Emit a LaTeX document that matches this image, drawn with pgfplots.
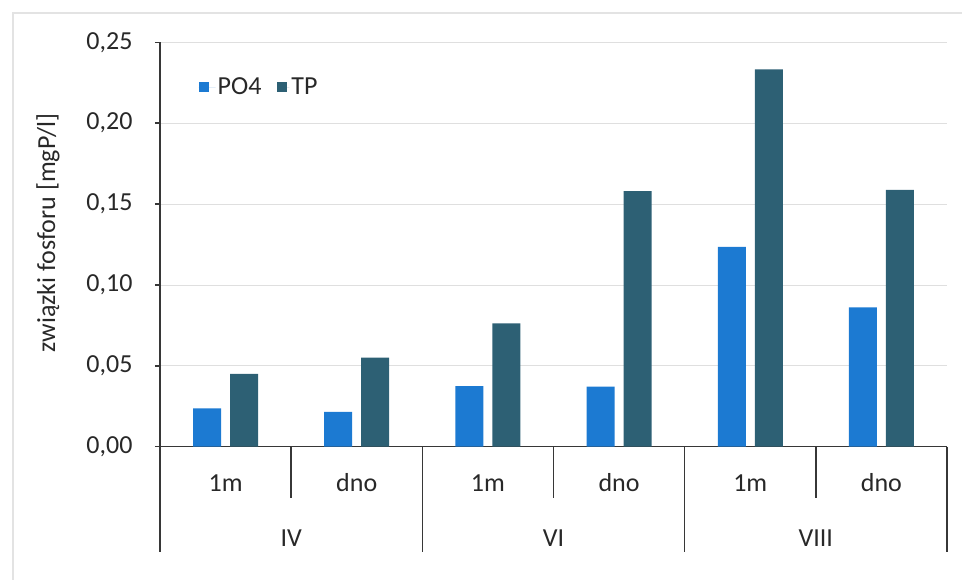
\documentclass[border=0pt]{standalone}
\usepackage{pgfplots}
\pgfplotsset{compat=1.18}
\usepackage{fontspec}
\setmainfont{Carlito}
\definecolor{po4}{RGB}{28,122,210}
\definecolor{tp}{RGB}{45,96,116}
\definecolor{axc}{RGB}{55,55,55}
\definecolor{txt}{RGB}{40,40,40}
\newcommand\cf{\fontsize{26}{31}\selectfont}
\begin{document}
\begin{tikzpicture}[x=1pt,y=1pt]
\useasboundingbox (-160,-133.3) rectangle (802,446.7);
\draw[gray!22, line width=2pt] (-147,-133.3) -- (-147,433.7) -- (802,433.7);
\begin{axis}[
  at={(0,0)}, anchor=south west,
  scale only axis, width=787pt, height=404.4pt,
  xmin=0, xmax=6, ymin=0, ymax=0.25,
  ybar=9pt, bar width=28pt,
  axis lines=left, axis line style={-, axc, line width=1.6pt},
  xtick=\empty,
  ytick={0,0.05,0.10,0.15,0.20,0.25},
  ymajorgrids, grid style={gray!25, line width=0.8pt},
  ytick style={axc, line width=1.4pt}, tick align=outside, major tick length=5pt,
  yticklabel style={font=\cf, text=txt, xshift=-19pt,
    /pgf/number format/.cd, fixed, fixed zerofill, precision=2, use comma, assume math mode=true},
  ylabel={związki fosforu [mgP/l]},
  ylabel style={font=\cf, text=txt, at={([xshift=-112pt]axis description cs:0,0.528)}, anchor=center},
  clip=false,
  legend columns=2,
  legend style={draw=none, fill=none, font=\cf, text=txt, at={(axis cs:0.27,0.2223)}, anchor=west,
    /tikz/every even column/.append style={column sep=14pt}},
]
\addplot[fill=po4, draw=none, legend image code/.code={\fill[po4] (0pt,-5pt) rectangle (10pt,5pt); \path (0pt,0pt) -- (17pt,0pt);}] coordinates {(0.5,0.0237) (1.5,0.0216) (2.5,0.0375) (3.5,0.0371) (4.5,0.1236) (5.5,0.0862)};
\addplot[fill=tp, draw=none, legend image code/.code={\fill[tp] (0pt,-5pt) rectangle (10pt,5pt); \path (0pt,0pt) -- (12pt,0pt);}] coordinates {(0.5,0.045) (1.5,0.055) (2.5,0.0763) (3.5,0.158) (4.5,0.2333) (5.5,0.1587)};
\legend{PO4, TP}
\draw[axc, line width=1.6pt] (axis cs:1,0) -- ++(0pt,-51pt);
\draw[axc, line width=1.6pt] (axis cs:3,0) -- ++(0pt,-51pt);
\draw[axc, line width=1.6pt] (axis cs:5,0) -- ++(0pt,-51pt);
\draw[axc, line width=1.6pt] (axis cs:0,0) -- ++(0pt,-105pt);
\draw[axc, line width=1.6pt] (axis cs:2,0) -- ++(0pt,-105pt);
\draw[axc, line width=1.6pt] (axis cs:4,0) -- ++(0pt,-105pt);
\draw[axc, line width=1.6pt] (axis cs:6,0) -- ++(0pt,-105pt);
\node[font=\cf, text=txt] at ([yshift=-36pt]axis cs:0.5,0) {1m};
\node[font=\cf, text=txt] at ([yshift=-36pt]axis cs:1.5,0) {dno};
\node[font=\cf, text=txt] at ([yshift=-36pt]axis cs:2.5,0) {1m};
\node[font=\cf, text=txt] at ([yshift=-36pt]axis cs:3.5,0) {dno};
\node[font=\cf, text=txt] at ([yshift=-36pt]axis cs:4.5,0) {1m};
\node[font=\cf, text=txt] at ([yshift=-36pt]axis cs:5.5,0) {dno};
\node[font=\cf, text=txt] at ([yshift=-91pt]axis cs:1,0) {IV};
\node[font=\cf, text=txt] at ([yshift=-91pt]axis cs:3,0) {VI};
\node[font=\cf, text=txt] at ([yshift=-91pt]axis cs:5,0) {VIII};
\end{axis}
\end{tikzpicture}
\end{document}
